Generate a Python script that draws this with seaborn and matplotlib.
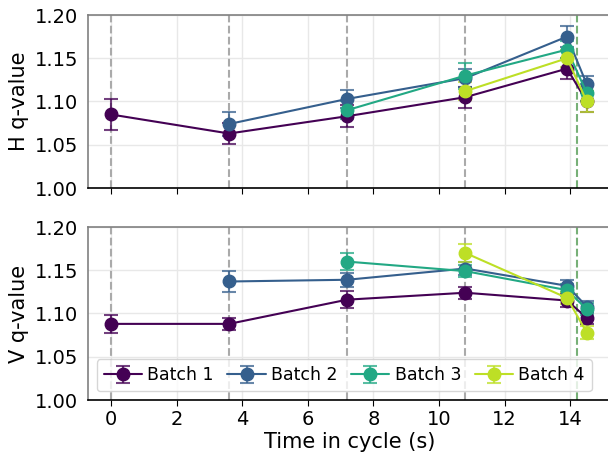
import numpy as np
import matplotlib
matplotlib.use("Agg")
import matplotlib.pyplot as plt
import seaborn as sns

# cycle times (s) at which each batch was measured
times = [0.0, 3.6, 7.2, 10.8, 13.9, 14.5]
event_times = [0.0, 3.6, 7.2, 10.8]
end_time = 14.2
batches = ["Batch 1", "Batch 2", "Batch 3", "Batch 4"]
nan = np.nan

# H q-value per batch (NaN = not yet started)
h_vals = [
    [1.085, 1.063, 1.083, 1.105, 1.138, 1.100],
    [nan, 1.074, 1.103, 1.127, 1.175, 1.120],
    [nan, nan, 1.090, 1.130, 1.160, 1.110],
    [nan, nan, nan, 1.112, 1.150, 1.100],
]
h_err = [
    [0.018, 0.012, 0.013, 0.012, 0.012, 0.012],
    [nan, 0.014, 0.010, 0.010, 0.012, 0.010],
    [nan, nan, 0.010, 0.015, 0.010, 0.010],
    [nan, nan, nan, 0.010, 0.010, 0.012],
]

# V q-value per batch
v_vals = [
    [1.088, 1.088, 1.116, 1.124, 1.115, 1.095],
    [nan, 1.137, 1.139, 1.152, 1.132, 1.108],
    [nan, nan, 1.160, 1.149, 1.127, 1.105],
    [nan, nan, nan, 1.170, 1.118, 1.078],
]
v_err = [
    [0.010, 0.007, 0.010, 0.007, 0.007, 0.007],
    [nan, 0.012, 0.008, 0.007, 0.007, 0.007],
    [nan, nan, 0.010, 0.007, 0.007, 0.007],
    [nan, nan, nan, 0.010, 0.007, 0.007],
]

sns.set_style("whitegrid")
plt.rcParams["font.family"] = ["DejaVu Sans"]
plt.rcParams.update({"text.color": "black", "axes.labelcolor": "black",
                     "xtick.color": "black", "ytick.color": "black"})
colors = plt.cm.viridis(np.linspace(0, 0.9, 4))

fig = plt.figure(figsize=(6.08, 4.53), dpi=100)
W, H = 608, 453
# axes run just past the right edge of the figure, as in the original crop
ax_w = (612 - 88) / W
ax_top = fig.add_axes([88 / W, (H - 188) / H, ax_w, 173 / H])
ax_bot = fig.add_axes([88 / W, (H - 400) / H, ax_w, 173 / H], sharex=ax_top)


def draw(ax, vals, errs, ylabel):
    for t in event_times:
        ax.axvline(t, color="#aaaaaa", ls="--", lw=1.5, zorder=1)
    ax.axvline(end_time, color="#77b077", ls="--", lw=1.5, zorder=1)
    for i, name in enumerate(batches):
        y = np.array(vals[i])
        e = np.array(errs[i])
        m = ~np.isnan(y)
        eb = ax.errorbar(np.array(times)[m], y[m], yerr=e[m], color=colors[i],
                         marker="o", markersize=9, capsize=5, lw=1.5,
                         elinewidth=1.5, capthick=1.5, label=name, zorder=3)
        for part in eb[1] + eb[2]:
            part.set_alpha(0.75)
    ax.set_ylim(1.0, 1.2)
    ax.set_yticks([1.00, 1.05, 1.10, 1.15, 1.20])
    ax.set_ylabel(ylabel, fontsize=15)
    ax.tick_params(axis="both", labelsize=14)
    ax.tick_params(axis="x", bottom=True, length=4, color="black")
    ax.grid(color="#e8e8e8", lw=1)
    ax.spines["left"].set_color("#808080")
    ax.spines["top"].set_color("#808080")
    ax.spines["bottom"].set_color("black")
    ax.spines["right"].set_visible(False)
    for s in ["left", "top", "bottom"]:
        ax.spines[s].set_linewidth(1.2)


draw(ax_top, h_vals, h_err, "H q-value")
draw(ax_bot, v_vals, v_err, "V q-value")

ax_top.set_xlim(-0.7, 15.27)
ax_top.set_xticks([0, 2, 4, 6, 8, 10, 12, 14])
ax_top.tick_params(axis="x", labelbottom=False)
ax_bot.set_xlabel("Time in cycle (s)", fontsize=15, labelpad=2)

ax_bot.legend(loc="lower left", ncol=4, fontsize=12.5, handlelength=2.2,
              columnspacing=0.8, handletextpad=0.3, borderpad=0.4,
              bbox_to_anchor=(0.0, 0.0), frameon=True)

fig.savefig("out.png", dpi=100)
